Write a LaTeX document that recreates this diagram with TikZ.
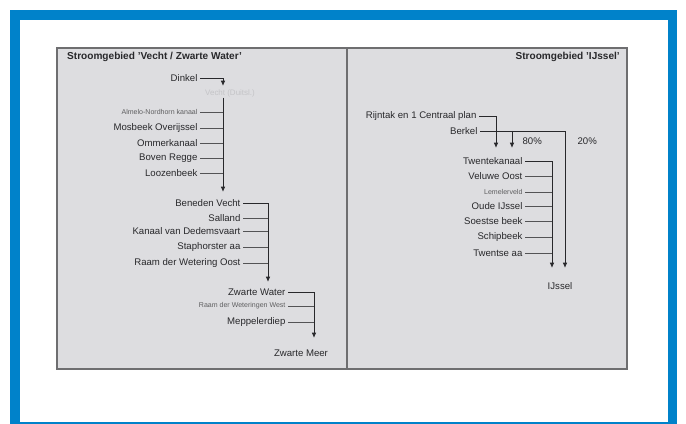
\documentclass[tikz,border=0pt]{standalone}
\usepackage{fontspec}
\setmainfont{Liberation Sans}
\usepackage{xcolor}
\usetikzlibrary{arrows.meta}
\definecolor{frameblue}{RGB}{0,130,202}
\definecolor{panelgrey}{RGB}{221,221,224}
\definecolor{edgegrey}{RGB}{110,110,112}
\definecolor{inkgrey}{RGB}{40,40,43}
\definecolor{ghost}{RGB}{196,196,199}

\begin{document}
\begin{tikzpicture}[x=0.03cm, y=-0.03cm,
  item/.style={anchor=east, inner xsep=2pt, inner ysep=0.5pt, text=inkgrey,
    font=\fontsize{8.2}{9}\selectfont},
  small/.style={item, font=\fontsize{6}{7}\selectfont, text=inkgrey!75},
  faint/.style={inner sep=0.5pt, text=ghost, font=\fontsize{6.8}{7}\selectfont},
  heading/.style={inner sep=0pt, text=inkgrey, font=\fontsize{8.6}{9}\selectfont\bfseries},
  flow/.style={-{Latex[length=4.6pt,width=4pt]}, line width=0.8pt, draw=inkgrey},
  tick/.style={line width=0.6pt, draw=inkgrey!80}
]
\useasboundingbox (0,0) rectangle (686,424);

% Frame and panels.
\draw[frameblue, line width=8.5pt] (15,15) rectangle (672.5,426.5);
\draw[edgegrey, line width=1.1pt, fill=panelgrey] (57,48) rectangle (627,369);
\draw[edgegrey, line width=1.1pt] (347,48) -- (347,369);

\node[heading, anchor=west] (lefttitle) at (67,57) {Stroomgebied 'Vecht / Zwarte Water'};
\node[heading, anchor=east] (righttitle) at (620,57) {Stroomgebied 'IJssel'};

% Vecht: upper reach.
\node[item] (dinkel) at (200,78) {Dinkel};
\node[faint] (vechtd) at (230,93) {Vecht (Duitsl.)};
\node[small] (almelo) at (200,112) {Almelo-Nordhorn kanaal};
\node[item] (mosbeek) at (200,128) {Mosbeek Overijssel};
\node[item] (ommer) at (200,143) {Ommerkanaal};
\node[item] (regge) at (200,158) {Boven Regge};
\node[item] (loo) at (200,173) {Loozenbeek};

\coordinate (a1) at (223,86);
\coordinate (b1) at (223,192);
\draw[flow] (dinkel.east) -| (a1);
\draw[flow] (vechtd.south -| b1) -- (b1);
\foreach \n in {almelo,mosbeek,ommer,regge,loo}
  \draw[tick] (\n.east) -- (\n.east -| b1);

% Vecht: lower reach.
\node[item] (benvecht) at (243,203) {Beneden Vecht};
\node[item] (salland) at (243,218) {Salland};
\node[item] (dedem) at (243,231) {Kanaal van Dedemsvaart};
\node[item] (staph) at (243,247) {Staphorster aa};
\node[item] (raamoost) at (243,263) {Raam der Wetering Oost};

\coordinate (b2) at (268,282);
\draw[flow] (benvecht.east) -| (b2);
\foreach \n in {salland,dedem,staph,raamoost}
  \draw[tick] (\n.east) -- (\n.east -| b2);

% Zwarte Water.
\node[item] (zwwater) at (288,292) {Zwarte Water};
\node[small] (raamwest) at (288,306) {Raam der Weteringen West};
\node[item] (meppel) at (288,322) {Meppelerdiep};
\node[item, anchor=center] (zwmeer) at (301,353) {Zwarte Meer};

\coordinate (b3) at (314,338);
\draw[flow] (zwwater.east) -| (b3);
\foreach \n in {raamwest,meppel}
  \draw[tick] (\n.east) -- (\n.east -| b3);

% IJssel.
\node[item] (rijn) at (479,116) {Rijntak en 1 Centraal plan};
\node[item] (berkel) at (480,131) {Berkel};
\node[item, anchor=west] (pct80) at (520,141) {80\%};
\node[item, anchor=west] (pct20) at (575,141) {20\%};

\coordinate (c1) at (496,148);
\coordinate (c2) at (512,148);
\coordinate (c3) at (565,268);
\draw[flow] (rijn.east) -| (c1);
\draw[flow] (berkel.east) -| (c3);
\draw[flow] (berkel.east -| c2) -- (c2);

\node[item] (twente) at (525,161) {Twentekanaal};
\node[item] (veluwe) at (525,176) {Veluwe Oost};
\node[small] (lemele) at (525,192) {Lemelerveld};
\node[item] (oudeijssel) at (525,206) {Oude IJssel};
\node[item] (soest) at (525,221) {Soestse beek};
\node[item] (schip) at (525,237) {Schipbeek};
\node[item] (twentseaa) at (525,253) {Twentse aa};
\node[item, anchor=center] (ijssel) at (560,286) {IJssel};

\coordinate (c4) at (552,268);
\draw[flow] (twente.east) -| (c4);
\foreach \n in {veluwe,lemele,oudeijssel,soest,schip,twentseaa}
  \draw[tick] (\n.east) -- (\n.east -| c4);

\end{tikzpicture}
\end{document}
